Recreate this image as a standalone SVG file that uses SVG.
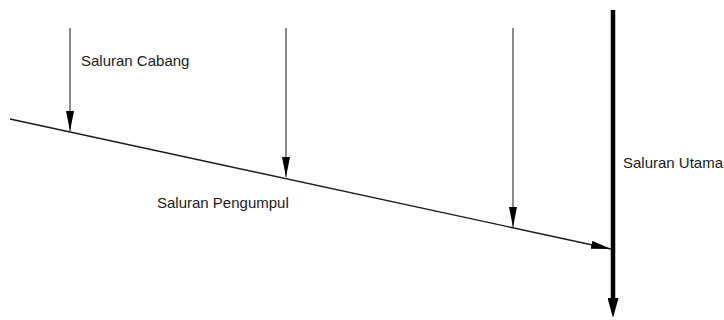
<svg xmlns="http://www.w3.org/2000/svg" width="724" height="320" viewBox="0 0 724 320">
  <style>
    .thin { stroke: #2a2a2a; stroke-width: 1.1; fill: none; }
    .main { stroke: #1a1a1a; stroke-width: 1.3; fill: none; }
    .thick { stroke: #000; stroke-width: 4.5; fill: none; }
    .lbl { font-family: "Liberation Sans", Arial, sans-serif; font-size: 15px; fill: #1a1a1a; }
  </style>
  <defs>
    <marker id="ah" markerUnits="userSpaceOnUse" viewBox="0 0 20 8" refX="20" refY="4" markerWidth="20" markerHeight="8" orient="auto">
      <path d="M0,0 L20,4 L0,8 Z" fill="#000"/>
    </marker>
    <marker id="ahThick" markerUnits="userSpaceOnUse" viewBox="0 0 20 11" refX="2" refY="5.5" markerWidth="20" markerHeight="11" orient="auto">
      <path d="M0,0 L20,5.5 L0,11 Z" fill="#000"/>
    </marker>
  </defs>
  <rect width="724" height="320" fill="#fff"/>
  <g id="connectors">
    <line id="saluran-pengumpul-line" class="main" x1="10" y1="119" x2="611" y2="249" marker-end="url(#ah)"/>
    <line id="cabang-1" class="thin" x1="70" y1="28" x2="70" y2="131" marker-end="url(#ah)"/>
    <line id="cabang-2" class="thin" x1="286" y1="28" x2="286" y2="177" marker-end="url(#ah)"/>
    <line id="cabang-3" class="thin" x1="513" y1="28" x2="513" y2="227" marker-end="url(#ah)"/>
    <line id="saluran-utama-line" class="thick" x1="613" y1="10" x2="613" y2="300" marker-end="url(#ahThick)"/>
  </g>
  <g id="label-cabang">
    <text class="lbl" x="81" y="66">Saluran Cabang</text>
  </g>
  <g id="label-pengumpul">
    <text class="lbl" x="157" y="208">Saluran Pengumpul</text>
  </g>
  <g id="label-utama">
    <text class="lbl" x="623" y="168">Saluran Utama</text>
  </g>
</svg>
